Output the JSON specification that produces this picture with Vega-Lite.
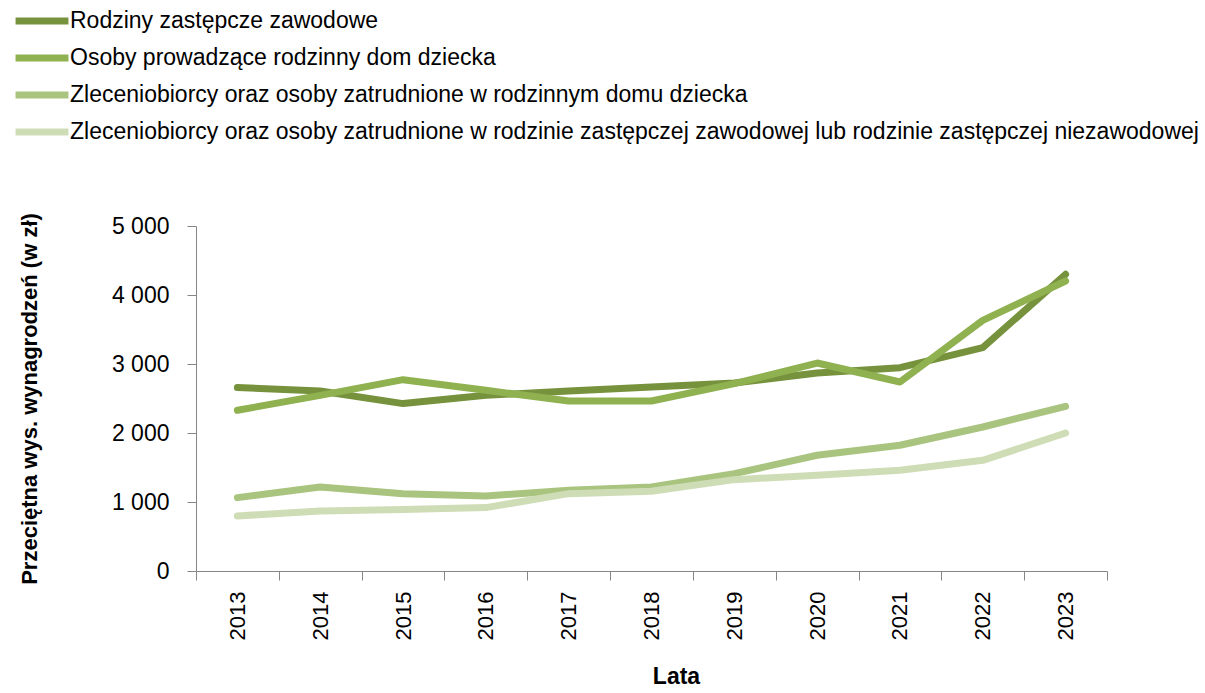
{
  "$schema": "https://vega.github.io/schema/vega-lite/v6.json",
  "autosize": {"type": "none"},
  "width": 911,
  "height": 345,
  "padding": {"left": 196, "top": 226, "right": 98, "bottom": 122},
  "background": "white",
  "config": {
    "font": "Liberation Sans",
    "view": {"stroke": null}
  },
  "data": {
    "values": [
      {"rok": "2013", "seria": "Rodziny zastępcze zawodowe", "wartosc": 2658},
      {"rok": "2014", "seria": "Rodziny zastępcze zawodowe", "wartosc": 2609},
      {"rok": "2015", "seria": "Rodziny zastępcze zawodowe", "wartosc": 2426},
      {"rok": "2016", "seria": "Rodziny zastępcze zawodowe", "wartosc": 2546},
      {"rok": "2017", "seria": "Rodziny zastępcze zawodowe", "wartosc": 2610},
      {"rok": "2018", "seria": "Rodziny zastępcze zawodowe", "wartosc": 2667},
      {"rok": "2019", "seria": "Rodziny zastępcze zawodowe", "wartosc": 2725},
      {"rok": "2020", "seria": "Rodziny zastępcze zawodowe", "wartosc": 2870},
      {"rok": "2021", "seria": "Rodziny zastępcze zawodowe", "wartosc": 2947},
      {"rok": "2022", "seria": "Rodziny zastępcze zawodowe", "wartosc": 3237},
      {"rok": "2023", "seria": "Rodziny zastępcze zawodowe", "wartosc": 4300},
      {"rok": "2013", "seria": "Osoby prowadzące rodzinny dom dziecka", "wartosc": 2329},
      {"rok": "2014", "seria": "Osoby prowadzące rodzinny dom dziecka", "wartosc": 2545},
      {"rok": "2015", "seria": "Osoby prowadzące rodzinny dom dziecka", "wartosc": 2773},
      {"rok": "2016", "seria": "Osoby prowadzące rodzinny dom dziecka", "wartosc": 2619},
      {"rok": "2017", "seria": "Osoby prowadzące rodzinny dom dziecka", "wartosc": 2464},
      {"rok": "2018", "seria": "Osoby prowadzące rodzinny dom dziecka", "wartosc": 2464},
      {"rok": "2019", "seria": "Osoby prowadzące rodzinny dom dziecka", "wartosc": 2715},
      {"rok": "2020", "seria": "Osoby prowadzące rodzinny dom dziecka", "wartosc": 3014},
      {"rok": "2021", "seria": "Osoby prowadzące rodzinny dom dziecka", "wartosc": 2739},
      {"rok": "2022", "seria": "Osoby prowadzące rodzinny dom dziecka", "wartosc": 3633},
      {"rok": "2023", "seria": "Osoby prowadzące rodzinny dom dziecka", "wartosc": 4203},
      {"rok": "2013", "seria": "Zleceniobiorcy oraz osoby zatrudnione w rodzinnym domu dziecka", "wartosc": 1063},
      {"rok": "2014", "seria": "Zleceniobiorcy oraz osoby zatrudnione w rodzinnym domu dziecka", "wartosc": 1217},
      {"rok": "2015", "seria": "Zleceniobiorcy oraz osoby zatrudnione w rodzinnym domu dziecka", "wartosc": 1121},
      {"rok": "2016", "seria": "Zleceniobiorcy oraz osoby zatrudnione w rodzinnym domu dziecka", "wartosc": 1087},
      {"rok": "2017", "seria": "Zleceniobiorcy oraz osoby zatrudnione w rodzinnym domu dziecka", "wartosc": 1169},
      {"rok": "2018", "seria": "Zleceniobiorcy oraz osoby zatrudnione w rodzinnym domu dziecka", "wartosc": 1217},
      {"rok": "2019", "seria": "Zleceniobiorcy oraz osoby zatrudnione w rodzinnym domu dziecka", "wartosc": 1411},
      {"rok": "2020", "seria": "Zleceniobiorcy oraz osoby zatrudnione w rodzinnym domu dziecka", "wartosc": 1677},
      {"rok": "2021", "seria": "Zleceniobiorcy oraz osoby zatrudnione w rodzinnym domu dziecka", "wartosc": 1822},
      {"rok": "2022", "seria": "Zleceniobiorcy oraz osoby zatrudnione w rodzinnym domu dziecka", "wartosc": 2087},
      {"rok": "2023", "seria": "Zleceniobiorcy oraz osoby zatrudnione w rodzinnym domu dziecka", "wartosc": 2387},
      {"rok": "2013", "seria": "Zleceniobiorcy oraz osoby zatrudnione w rodzinie zastępczej zawodowej lub rodzinie zastępczej niezawodowej", "wartosc": 797},
      {"rok": "2014", "seria": "Zleceniobiorcy oraz osoby zatrudnione w rodzinie zastępczej zawodowej lub rodzinie zastępczej niezawodowej", "wartosc": 870},
      {"rok": "2015", "seria": "Zleceniobiorcy oraz osoby zatrudnione w rodzinie zastępczej zawodowej lub rodzinie zastępczej niezawodowej", "wartosc": 890},
      {"rok": "2016", "seria": "Zleceniobiorcy oraz osoby zatrudnione w rodzinie zastępczej zawodowej lub rodzinie zastępczej niezawodowej", "wartosc": 919},
      {"rok": "2017", "seria": "Zleceniobiorcy oraz osoby zatrudnione w rodzinie zastępczej zawodowej lub rodzinie zastępczej niezawodowej", "wartosc": 1121},
      {"rok": "2018", "seria": "Zleceniobiorcy oraz osoby zatrudnione w rodzinie zastępczej zawodowej lub rodzinie zastępczej niezawodowej", "wartosc": 1155},
      {"rok": "2019", "seria": "Zleceniobiorcy oraz osoby zatrudnione w rodzinie zastępczej zawodowej lub rodzinie zastępczej niezawodowej", "wartosc": 1324},
      {"rok": "2020", "seria": "Zleceniobiorcy oraz osoby zatrudnione w rodzinie zastępczej zawodowej lub rodzinie zastępczej niezawodowej", "wartosc": 1387},
      {"rok": "2021", "seria": "Zleceniobiorcy oraz osoby zatrudnione w rodzinie zastępczej zawodowej lub rodzinie zastępczej niezawodowej", "wartosc": 1459},
      {"rok": "2022", "seria": "Zleceniobiorcy oraz osoby zatrudnione w rodzinie zastępczej zawodowej lub rodzinie zastępczej niezawodowej", "wartosc": 1604},
      {"rok": "2023", "seria": "Zleceniobiorcy oraz osoby zatrudnione w rodzinie zastępczej zawodowej lub rodzinie zastępczej niezawodowej", "wartosc": 2000}
    ]
  },
  "mark": {"type": "line", "strokeWidth": 7, "strokeCap": "round", "strokeJoin": "round"},
  "encoding": {
    "x": {
      "field": "rok",
      "type": "ordinal",
      "scale": {"paddingInner": 0, "paddingOuter": 0},
      "axis": {
        "title": "Lata",
        "titleFontSize": 23,
        "titleFontWeight": "bold",
        "titleColor": "black",
        "titleX": 480,
        "titlePadding": 26,
        "labelAngle": -90,
        "labelFontSize": 22,
        "labelColor": "black",
        "labelPadding": 11,
        "tickBand": "extent",
        "tickSize": 9,
        "tickColor": "#868686",
        "domainColor": "#868686",
        "grid": false
      }
    },
    "y": {
      "field": "wartosc",
      "type": "quantitative",
      "scale": {"domain": [0, 5000], "nice": false},
      "axis": {
        "title": "Przeciętna wys. wynagrodzeń (w zł)",
        "titleFontSize": 22,
        "titleFontWeight": "bold",
        "titleColor": "black",
        "titlePadding": 70,
        "values": [0, 1000, 2000, 3000, 4000, 5000],
        "format": ",d",
        "labelExpr": "replace(datum.label, ',', ' ')",
        "labelFontSize": 23,
        "labelColor": "black",
        "labelPadding": 18,
        "tickSize": 9,
        "tickColor": "#868686",
        "domainColor": "#868686",
        "grid": false
      }
    },
    "color": {
      "field": "seria",
      "type": "nominal",
      "sort": [
        "Rodziny zastępcze zawodowe",
        "Osoby prowadzące rodzinny dom dziecka",
        "Zleceniobiorcy oraz osoby zatrudnione w rodzinnym domu dziecka",
        "Zleceniobiorcy oraz osoby zatrudnione w rodzinie zastępczej zawodowej lub rodzinie zastępczej niezawodowej"
      ],
      "scale": {
        "domain": [
          "Rodziny zastępcze zawodowe",
          "Osoby prowadzące rodzinny dom dziecka",
          "Zleceniobiorcy oraz osoby zatrudnione w rodzinnym domu dziecka",
          "Zleceniobiorcy oraz osoby zatrudnione w rodzinie zastępczej zawodowej lub rodzinie zastępczej niezawodowej"
        ],
        "range": ["#76923C", "#8FB150", "#A9C47F", "#CFDDB7"]
      },
      "legend": {
        "title": null,
        "orient": "none",
        "legendX": -176,
        "legendY": -227,
        "symbolType": "M-1.43,0H1.43",
        "symbolSize": 1369,
        "symbolStrokeWidth": 7,
        "labelFontSize": 23,
        "labelColor": "black",
        "labelOffset": 6,
        "labelLimit": 1200,
        "rowPadding": 1,
        "padding": 0
      }
    }
  }
}
